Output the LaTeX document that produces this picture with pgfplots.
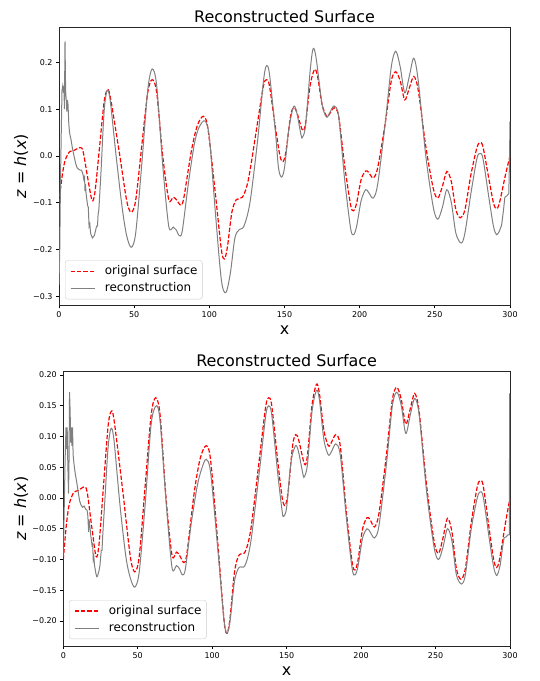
\documentclass[border=0pt]{standalone}
\usepackage{fontspec}
\setmainfont{DejaVu Sans}
\usepackage{pgfplots}
\pgfplotsset{compat=1.18}

\definecolor{recgray}{HTML}{808080}
\definecolor{origred}{HTML}{FF0000}

\pgfplotsset{
  every axis title shift=0pt,
  surf/.style={
    scale only axis,
    xmin=0, xmax=300,
    xtick={0,50,100,150,200,250,300},
    tick pos=left, tick align=outside,
    major tick length=3bp,
    every tick/.style={black, line width=0.8bp},
    axis line style={black!85, line width=0.8bp},
    tick label style={font=\fontsize{8}{9.6}\selectfont},
    /pgf/number format/assume math mode=true,
    scaled y ticks=false,
    title={Reconstructed Surface},
    title style={at={(0.5,1)}, anchor=base, font=\fontsize{16}{19}\selectfont},
    xlabel={x},
    xlabel style={at={(axis description cs:0.5,0)}, anchor=base, yshift=-29.5bp, font=\fontsize{16}{19}\selectfont},
    ylabel={\textit{z} = \textit{h}(\textit{x})},
    ylabel style={anchor=base, font=\fontsize{16}{19}\selectfont},
    legend cell align=left,
    legend style={draw=black!20, rounded corners=2.5bp, fill=white,
      font=\fontsize{12}{14}\selectfont,
      inner xsep=4.8bp, inner ysep=4.8bp, row sep=5bp, column sep=9.6bp,
      nodes={inner sep=0bp, text height=9bp, text depth=3bp}},
  },
  orig/.style={draw=origred, line width=1.2bp, dash pattern=on 4.4bp off 1.9bp},
  rec/.style={draw=recgray, line width=1bp},
  % a throwaway path first, then the sample line itself
  origleg/.style={legend image code/.code={%
    \path[draw=origred, line width=1.3bp] (0bp,0bp);
    \draw[dash pattern=on 4.4bp off 1.9bp, draw=origred, line width=1.3bp, draw=origred, line width=1.3bp] (0bp,0bp) -- (24bp,0bp);}},
  recleg/.style={legend image code/.code={%
    \path[draw=recgray, line width=1bp] (0bp,0bp);
    \draw[draw=recgray, line width=1bp] (0bp,0bp) -- (24bp,0bp);}},
}

\begin{document}
\begin{tikzpicture}

% ---------- top panel ----------
\begin{axis}[surf,
  at={(59bp,-27.3bp)}, anchor=north west,
  width=451bp, height=278bp,
  ymin=-0.319, ymax=0.275,
  ytick={-0.3,-0.2,-0.1,0,0.1,0.2},
  yticklabels={−0.3,−0.2,−0.1,0.0,0.1,0.2},
  title style={yshift=4.6bp},
  ylabel style={at={(axis description cs:-0.0727,0.5)}},
  legend style={at={(0.0133,0.0216)}, anchor=south west},
]
\addplot[orig, smooth, forget plot] coordinates {
(0,-0.100)(2,-0.045)(4,-0.010)(7,0.009)(10,0.012)(14,0.018)(16,0.010)(19,-0.045)
(22,-0.095)(24,-0.075)(27,0.020)(30,0.115)(32,0.140)(34,0.128)(40,0.010)(45,-0.095)
(48,-0.120)(51,-0.095)(55,0.020)(59,0.135)(62,0.163)(65,0.135)(69,0.000)(73,-0.093)
(76,-0.088)(78,-0.093)(81,-0.105)(83,-0.090)(88,0.010)(92,0.065)(96,0.085)(99,0.060)
(104,-0.080)(108,-0.200)(110,-0.220)(112,-0.195)(115,-0.120)(118,-0.093)(122,-0.088)
(126,-0.050)(132,0.070)(136,0.150)(138,0.163)(140,0.150)(144,0.060)(147,0.000)
(149,-0.012)(151,0.010)(154,0.085)(156,0.103)(158,0.095)(162,0.055)(164,0.070)
(167,0.150)(170,0.185)(172,0.170)(175,0.110)(178,0.085)(180,0.090)(183,0.103)
(186,0.085)(190,-0.020)(194,-0.105)(196,-0.117)(198,-0.100)(201,-0.050)(204,-0.032)
(206,-0.035)(209,-0.047)(212,-0.025)(217,0.070)(221,0.160)(224,0.180)(227,0.160)
(230,0.120)(233,0.145)(236,0.170)(239,0.140)(244,0.020)(249,-0.070)(252,-0.090)
(255,-0.065)(258,-0.033)(261,-0.055)(264,-0.115)(267,-0.132)(270,-0.115)(274,-0.040)
(278,0.018)(280,0.028)(282,0.020)(286,-0.050)(289,-0.100)(291,-0.113)(293,-0.100)
(297,-0.040)(300,0.000)};
\addplot[rec, forget plot] coordinates {
(0,-0.275)(0.5,-0.200)(1,-0.050)(1.5,0.050)(2,0.140)(2.5,0.150)(3,0.135)(3.3,0.150)
(3.6,0.100)(4,0.245)(4.4,0.140)(4.8,0.120)(5.2,0.095)(5.6,0.120)(6,0.110)(6.5,0.070)
(7,0.050)(8,0.035)(9,0.015)(10,0.000)(11,-0.015)(12,-0.025)(13,-0.028)(14,-0.030)
(15,-0.030)(16,-0.040)(16.5,-0.050)(17,-0.045)(17.3,-0.075)(17.6,-0.060)(18,-0.080)
(19,-0.105)(19.5,-0.110)(20,-0.150)(20.5,-0.145)(21,-0.165)(22.2,-0.175)(23.5,-0.170)
(25,-0.150)(25.6,-0.150)(26,-0.125)(26.5,-0.115)};
\addplot[rec, smooth, forget plot] coordinates {
(26.5,-0.115)(28,-0.030)(30,0.095)(32,0.140)(34,0.120)(38,0.000)(42,-0.110)(45,-0.170)
(48,-0.195)(51,-0.165)(55,-0.020)(59,0.140)(62,0.186)(65,0.150)(69,-0.020)(73,-0.150)
(76,-0.152)(78,-0.158)(80,-0.170)(82,-0.160)(86,-0.060)(90,0.025)(93,0.060)(97,0.075)
(100,0.040)(104,-0.120)(108,-0.265)(111,-0.292)(114,-0.250)(117,-0.175)(120,-0.157)
(123,-0.150)(127,-0.100)(132,0.030)(136,0.160)(138,0.193)(140,0.175)(144,0.050)
(146,-0.025)(148,-0.045)(150,-0.025)(153,0.060)(156,0.105)(158,0.095)(161,0.045)
(162,0.040)(164,0.065)(167,0.180)(169,0.229)(171,0.210)(175,0.110)(178,0.083)
(180,0.092)(183,0.107)(186,0.085)(190,-0.050)(194,-0.155)(196,-0.168)(198,-0.150)
(201,-0.095)(204,-0.072)(206,-0.078)(209,-0.090)(212,-0.060)(217,0.070)(221,0.190)
(224,0.224)(227,0.190)(230,0.135)(233,0.170)(236,0.209)(239,0.160)(244,0.000)
(249,-0.110)(252,-0.135)(255,-0.110)(258,-0.072)(261,-0.100)(264,-0.165)(267.5,-0.186)
(270,-0.165)(274,-0.080)(278,-0.005)(280,0.005)(282,-0.005)(286,-0.090)(289,-0.150)
(291,-0.168)(293,-0.160)};
\addplot[rec, forget plot] coordinates {
(293,-0.160)(294.4,-0.148)(295.5,-0.120)(296.6,-0.088)(298,-0.085)(299.2,-0.080)
(299.6,-0.020)(300,0.074)};
\addlegendimage{origleg}
\addlegendentry{original surface}
\addlegendimage{recleg}
\addlegendentry{reconstruction}
\end{axis}

% ---------- bottom panel ----------
\begin{axis}[surf,
  at={(63.3bp,-371.7bp)}, anchor=north west,
  width=446.7bp, height=274.3bp,
  ymin=-0.2407, ymax=0.2054,
  ytick={-0.2,-0.15,-0.1,-0.05,0,0.05,0.1,0.15,0.2},
  yticklabels={−0.20,−0.15,−0.10,−0.05,0.00,0.05,0.10,0.15,0.20},
  title style={yshift=5.7bp},
  ylabel style={at={(axis description cs:-0.0831,0.5)}},
  legend style={at={(0.0128,0.0255)}, anchor=south west},
]
\addplot[orig, smooth, forget plot] coordinates {
(0,-0.100)(2,-0.045)(4,-0.010)(7,0.009)(10,0.012)(14,0.018)(16,0.010)(19,-0.045)
(22,-0.095)(24,-0.075)(27,0.020)(30,0.115)(32,0.140)(34,0.128)(40,0.010)(45,-0.095)
(48,-0.120)(51,-0.095)(55,0.020)(59,0.135)(62,0.163)(65,0.135)(69,0.000)(73,-0.093)
(76,-0.088)(78,-0.093)(81,-0.105)(83,-0.090)(88,0.010)(92,0.065)(96,0.085)(99,0.060)
(104,-0.080)(108,-0.200)(110,-0.220)(112,-0.195)(115,-0.120)(118,-0.093)(122,-0.088)
(126,-0.050)(132,0.070)(136,0.150)(138,0.163)(140,0.150)(144,0.060)(147,0.000)
(149,-0.012)(151,0.010)(154,0.085)(156,0.103)(158,0.095)(162,0.055)(164,0.070)
(167,0.150)(170,0.185)(172,0.170)(175,0.110)(178,0.085)(180,0.090)(183,0.103)
(186,0.085)(190,-0.020)(194,-0.105)(196,-0.117)(198,-0.100)(201,-0.050)(204,-0.032)
(206,-0.035)(209,-0.047)(212,-0.025)(217,0.070)(221,0.160)(224,0.180)(227,0.160)
(230,0.120)(233,0.145)(236,0.170)(239,0.140)(244,0.020)(249,-0.070)(252,-0.090)
(255,-0.065)(258,-0.033)(261,-0.055)(264,-0.115)(267,-0.132)(270,-0.115)(274,-0.040)
(278,0.018)(280,0.028)(282,0.020)(286,-0.050)(289,-0.100)(291,-0.113)(293,-0.100)
(297,-0.040)(300,0.000)};
\addplot[rec, forget plot] coordinates {
(0,-0.095)(0.6,-0.020)(1.2,0.060)(1.8,0.115)(2.2,0.080)(2.6,0.115)(3.0,0.060)
(3.5,0.007)(3.8,0.050)(4.2,0.172)(4.6,0.140)(5.0,0.090)(5.5,0.115)(5.8,0.085)
(6.2,0.115)(6.6,0.070)(7.2,0.055)(8,0.040)(9,0.026)(10,0.010)(11,-0.005)(12,-0.012)
(13,-0.015)(14,-0.013)(15,-0.018)(16,-0.020)(16.5,-0.030)(17,-0.055)(17.3,-0.035)
(17.8,-0.045)(18.4,-0.060)(19.3,-0.077)(19.7,-0.075)(20.1,-0.100)(20.5,-0.095)
(21,-0.110)(21.9,-0.123)(22.5,-0.128)(23,-0.127)(24,-0.118)(24.6,-0.110)(25.5,-0.085)
(26,-0.085)(26.5,-0.060)};
\addplot[rec, smooth, forget plot] coordinates {
(26.5,-0.060)(28,0.000)(30,0.080)(32,0.113)(34,0.095)(38,-0.010)(42,-0.095)(45,-0.130)
(48,-0.145)(51,-0.120)(55,-0.010)(59,0.120)(62.5,0.150)(65,0.125)(69,-0.005)(73,-0.113)
(76,-0.110)(78,-0.115)(80,-0.125)(82,-0.115)(86,-0.040)(90,0.020)(93,0.048)(96,0.063)
(99,0.040)(104,-0.090)(108,-0.200)(110,-0.220)(112,-0.200)(115,-0.135)(118,-0.113)
(122,-0.110)(126,-0.070)(132,0.050)(136,0.135)(138,0.150)(140,0.135)(144,0.040)
(147,-0.022)(148,-0.030)(150,-0.015)(153,0.060)(156,0.085)(158,0.075)(161,0.038)
(162,0.035)(164,0.055)(167,0.140)(170,0.175)(172,0.160)(175,0.095)(178,0.070)
(180,0.075)(183,0.088)(186,0.070)(190,-0.030)(194,-0.115)(196,-0.125)(198,-0.110)
(201,-0.065)(204,-0.050)(206,-0.055)(209,-0.065)(212,-0.045)(217,0.055)(221,0.150)
(224,0.172)(227,0.150)(230,0.105)(233,0.135)(236,0.162)(239,0.135)(244,0.010)
(249,-0.080)(252,-0.100)(255,-0.080)(258,-0.050)(261,-0.070)(264,-0.125)(267.5,-0.140)
(270,-0.125)(274,-0.050)(278,0.000)(280,0.010)(282,0.002)(286,-0.065)(289,-0.112)
(291,-0.126)(292.5,-0.118)};
\addplot[rec, forget plot] coordinates {
(292.5,-0.118)(293.5,-0.108)(295,-0.080)(296,-0.065)(297.5,-0.063)(298.5,-0.060)
(299.5,-0.060)(299.8,0.170)(300,-0.060)(300,0.170)};
\addlegendimage{origleg}
\addlegendentry{original surface}
\addlegendimage{recleg}
\addlegendentry{reconstruction}
\end{axis}

\path (0,0) rectangle (540bp,-681bp);
\end{tikzpicture}
\end{document}
